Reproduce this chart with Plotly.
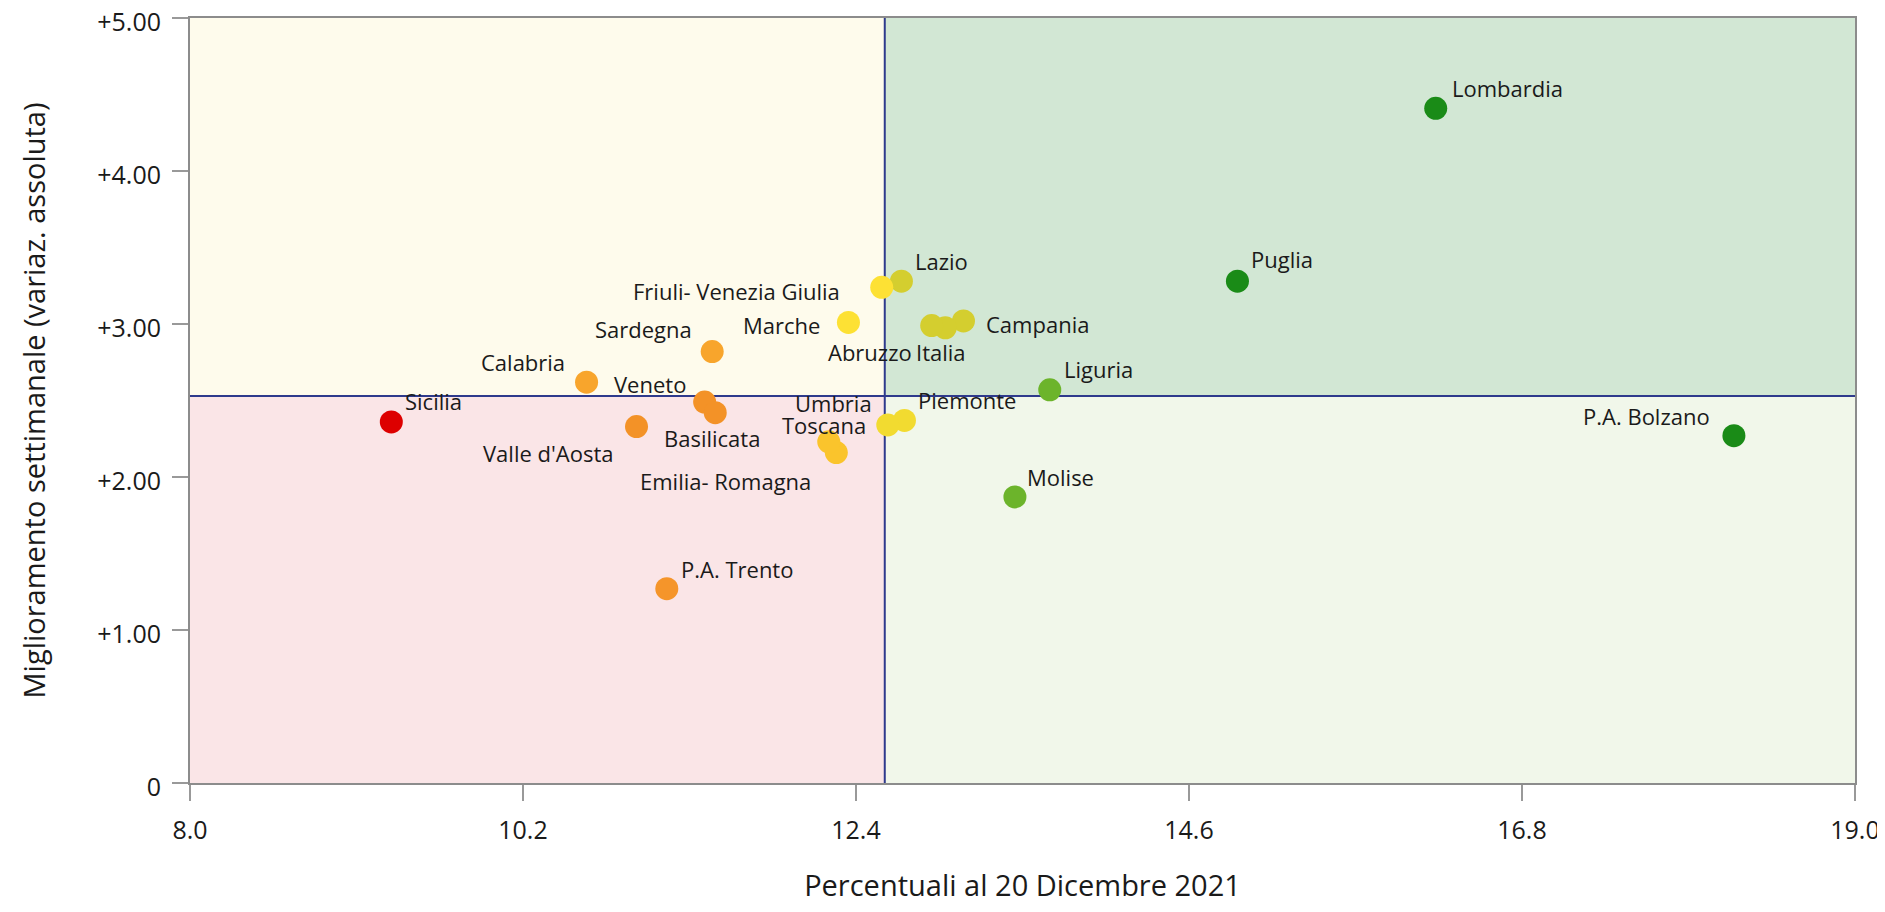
import plotly.graph_objects as go

# ---------------- data ----------------
regions = ["Lombardia", "Puglia", "P.A. Bolzano", "Liguria", "Molise", "Piemonte",
           "Campania", "Italia", "Abruzzo", "Lazio", "Friuli- Venezia Giulia", "Marche",
           "Sardegna", "Calabria", "Veneto", "Basilicata", "Valle d'Aosta",
           "Emilia- Romagna", "Toscana", "Umbria", "Sicilia", "P.A. Trento"]
percentuali = [16.23, 14.92, 18.20, 13.68, 13.45, 12.72,
               13.11, 12.99, 12.90, 12.70, 12.57, 12.35,
               11.45, 10.62, 11.40, 11.47, 10.95,
               12.27, 12.61, 12.22, 9.33, 11.15]
miglioramento = [4.41, 3.28, 2.27, 2.57, 1.87, 2.37,
                 3.02, 2.975, 2.99, 3.28, 3.24, 3.01,
                 2.82, 2.62, 2.49, 2.42, 2.33,
                 2.16, 2.34, 2.23, 2.36, 1.27]
point_colors = ["#1A8B17", "#1A8B17", "#1A8B17", "#6CB42B", "#6CB42B", "#F2DB30",
                "#D4CE2F", "#D4CE2F", "#D4CE2F", "#D4CE2F", "#FDE134", "#FDE134",
                "#F8A52C", "#F8A52C", "#F39227", "#F39227", "#F39227",
                "#FAC42C", "#F2DB30", "#FAC42C", "#DD0000", "#F5952A"]

x_threshold = 12.59
y_threshold = 2.53
x_range = [8.0, 19.0]
y_range = [0, 5]
x_ticks = [8.0, 10.2, 12.4, 14.6, 16.8, 19.0]
x_ticktext = ["8.0", "10.2", "12.4", "14.6", "16.8", "19.0"]
y_ticks = [0, 1, 2, 3, 4, 5]
y_ticktext = ["0", "+1.00", "+2.00", "+3.00", "+4.00", "+5.00"]

# label placement (anchor, dx px, dy px; dy positive = downward)
label_place = {
    "Lombardia": ("left", 14, -20),
    "Puglia": ("left", 12, -22),
    "P.A. Bolzano": ("right", -22, -20),
    "Liguria": ("left", 12, -21),
    "Molise": ("left", 10, -20),
    "Piemonte": ("left", 12, -20),
    "Campania": ("left", 21, 3),
    "Italia": ("center", -4, 24),
    "Abruzzo": ("right", -18, 26),
    "Lazio": ("left", 12, -20),
    "Friuli- Venezia Giulia": ("right", -40, 4),
    "Marche": ("right", -26, 3),
    "Sardegna": ("right", -18, -23),
    "Calabria": ("right", -20, -20),
    "Veneto": ("right", -17, -18),
    "Basilicata": ("center", -3, 25),
    "Valle d'Aosta": ("right", -21, 26),
    "Emilia- Romagna": ("right", -23, 28),
    "Toscana": ("right", -20, 0),
    "Umbria": ("center", 5, -39),
    "Sicilia": ("left", 12, -21),
    "P.A. Trento": ("left", 12, -20),
}

FONT = "Open Sans, Noto Sans, sans-serif"

fig = go.Figure()

# quadrant backgrounds
quadrants = [
    (x_range[0], x_threshold, y_threshold, y_range[1], "#FEFBEC"),
    (x_threshold, x_range[1], y_threshold, y_range[1], "#D2E7D4"),
    (x_range[0], x_threshold, y_range[0], y_threshold, "#FAE5E7"),
    (x_threshold, x_range[1], y_range[0], y_threshold, "#F1F7EA"),
]
for x0, x1, y0, y1, c in quadrants:
    fig.add_shape(type="rect", xref="x", yref="y", x0=x0, x1=x1, y0=y0, y1=y1,
                  fillcolor=c, line=dict(width=0), layer="below")

fig.add_shape(type="line", xref="x", yref="y", x0=x_threshold, x1=x_threshold,
              y0=y_range[0], y1=y_range[1], line=dict(color="#2E3A8C", width=2), layer="below")
fig.add_shape(type="line", xref="x", yref="y", x0=x_range[0], x1=x_range[1],
              y0=y_threshold, y1=y_threshold, line=dict(color="#2E3A8C", width=2), layer="below")

fig.add_trace(go.Scatter(
    x=percentuali, y=miglioramento, mode="markers",
    marker=dict(size=23, color=point_colors, line=dict(width=0), opacity=1),
    text=regions, hoverinfo="text+x+y", showlegend=False, cliponaxis=False,
))

for name, xv, yv in zip(regions, percentuali, miglioramento):
    anchor, dx, dy = label_place[name]
    fig.add_annotation(x=xv, y=yv, xref="x", yref="y", text=name, showarrow=False,
                       xanchor=anchor, yanchor="middle", xshift=dx, yshift=-dy,
                       font=dict(family=FONT, size=22, color="#1A1A1A"))

fig.update_layout(
    width=1877, height=896,
    margin=dict(l=182, r=30, t=10, b=121),
    paper_bgcolor="white", plot_bgcolor="white",
    font=dict(family=FONT, color="#1A1A1A"),
    xaxis=dict(range=x_range, tickvals=x_ticks, ticktext=x_ticktext, automargin=False,
               ticklabeloverflow="allow",
               showgrid=False, zeroline=False, showline=True, mirror=True,
               linecolor="#8C8C8C", linewidth=2, ticks="outside", ticklen=16,
               tickwidth=2, tickcolor="#999999", ticklabelstandoff=8,
               tickfont=dict(family=FONT, size=25, color="#1A1A1A"),
               title=dict(text="Percentuali al 20 Dicembre 2021", standoff=33,
                          font=dict(family=FONT, size=29, color="#1A1A1A"))),
    yaxis=dict(range=y_range, tickvals=y_ticks, ticktext=y_ticktext, automargin=False,
               ticklabeloverflow="allow", ticklabelshift=4,
               showgrid=False, zeroline=False, showline=True, mirror=True,
               linecolor="#8C8C8C", linewidth=2, ticks="outside", ticklen=16,
               tickwidth=2, tickcolor="#999999", ticklabelstandoff=6,
               tickfont=dict(family=FONT, size=25, color="#1A1A1A"),
               title=dict(text="Miglioramento settimanale (variaz. assoluta)", standoff=43,
                          font=dict(family=FONT, size=29, color="#1A1A1A"))),
)

fig.write_html("out.html")
